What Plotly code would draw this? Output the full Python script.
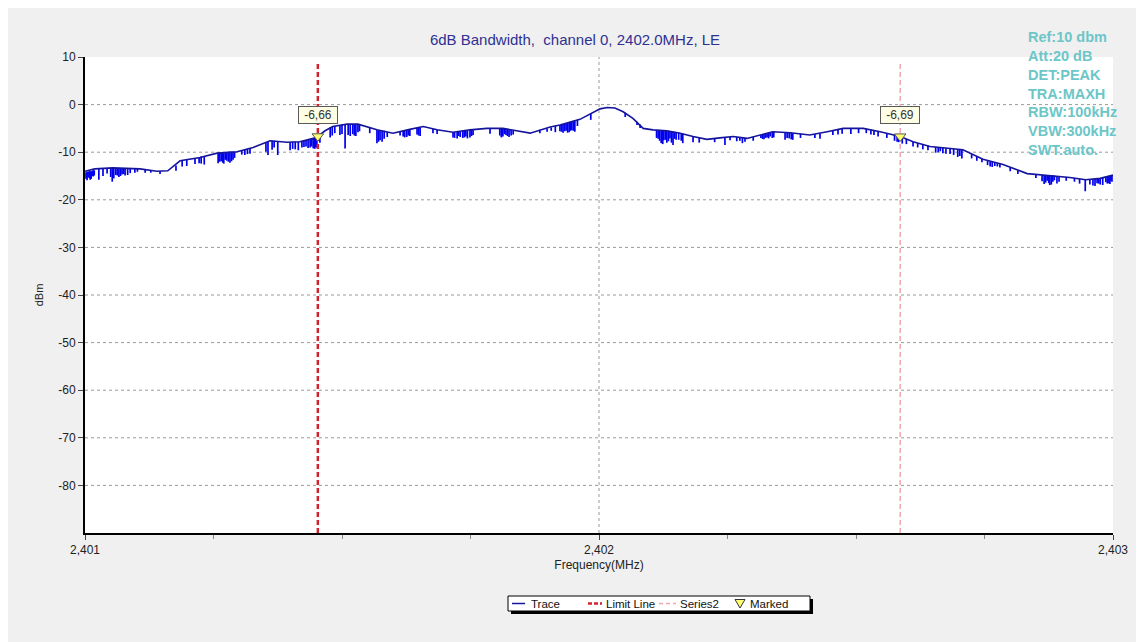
import plotly.graph_objects as go

# ---------------- data ----------------
env_freq = [2401.000, 2401.019, 2401.054, 2401.107, 2401.140, 2401.161, 2401.185, 2401.224,
            2401.257, 2401.296, 2401.327, 2401.360, 2401.393, 2401.418, 2401.444, 2401.453,
            2401.467, 2401.482, 2401.510, 2401.531, 2401.568, 2401.599, 2401.632, 2401.658,
            2401.685, 2401.716, 2401.749, 2401.782, 2401.813, 2401.840, 2401.866, 2401.905,
            2401.924, 2401.963, 2401.988, 2402.002, 2402.016, 2402.031, 2402.047, 2402.066,
            2402.086, 2402.105, 2402.132, 2402.158, 2402.183, 2402.210, 2402.235, 2402.261,
            2402.288, 2402.313, 2402.338, 2402.372, 2402.410, 2402.444, 2402.475, 2402.514,
            2402.547, 2402.586, 2402.611, 2402.644, 2402.677, 2402.708, 2402.747, 2402.786,
            2402.833, 2402.879, 2402.916, 2402.947, 2402.975, 2403.000]
env_dbm = [-14.0, -13.5, -13.3, -13.5, -14.0, -13.9, -11.8, -11.1,
           -10.2, -9.9, -9.0, -7.6, -7.9, -7.8, -7.1, -6.66,
           -5.5, -4.6, -4.1, -4.1, -5.3, -6.0, -5.2, -4.6,
           -5.3, -5.8, -5.3, -5.0, -5.0, -5.5, -6.0, -4.7,
           -4.3, -3.1, -1.8, -0.9, -0.6, -0.7, -1.5, -2.9,
           -5.0, -5.3, -5.5, -6.0, -6.7, -7.3, -7.0, -6.7,
           -7.1, -6.4, -5.7, -5.9, -6.4, -5.7, -5.0, -5.0,
           -5.7, -6.69, -7.8, -8.8, -9.2, -9.5, -11.5, -12.6,
           -14.5, -14.9, -15.3, -15.8, -15.5, -14.8]

dip_freq = [2401.002, 2401.006, 2401.010, 2401.014, 2401.018, 2401.027, 2401.035, 2401.043,
            2401.053, 2401.060, 2401.066, 2401.072, 2401.078, 2401.088, 2401.097, 2401.117,
            2401.146, 2401.177, 2401.189, 2401.198, 2401.214, 2401.222, 2401.232, 2401.259,
            2401.265, 2401.270, 2401.276, 2401.282, 2401.288, 2401.311, 2401.321, 2401.356,
            2401.364, 2401.375, 2401.399, 2401.409, 2401.422, 2401.430, 2401.438, 2401.444,
            2401.447, 2401.451, 2401.457, 2401.477, 2401.481, 2401.496, 2401.506, 2401.516,
            2401.521, 2401.527, 2401.531, 2401.554, 2401.568, 2401.574, 2401.578, 2401.588,
            2401.613, 2401.619, 2401.626, 2401.632, 2401.646, 2401.652, 2401.677, 2401.685,
            2401.716, 2401.724, 2401.730, 2401.735, 2401.741, 2401.749, 2401.755, 2401.788,
            2401.807, 2401.813, 2401.819, 2401.825, 2401.833, 2401.885, 2401.899, 2401.907,
            2401.924, 2401.930, 2401.936, 2401.942, 2401.947, 2401.953, 2401.984, 2402.051,
            2402.074, 2402.080, 2402.115, 2402.121, 2402.126, 2402.132, 2402.138, 2402.144,
            2402.150, 2402.163, 2402.183, 2402.245, 2402.274, 2402.284, 2402.315, 2402.321,
            2402.327, 2402.333, 2402.340, 2402.362, 2402.370, 2402.377, 2402.430, 2402.465,
            2402.473, 2402.529, 2402.543, 2402.580, 2402.590, 2402.611, 2402.630, 2402.660,
            2402.669, 2402.683, 2402.698, 2402.706, 2402.735, 2402.761, 2402.770, 2402.780,
            2402.866, 2402.872, 2402.877, 2402.883, 2402.891, 2402.909, 2402.946, 2402.961,
            2402.969, 2402.975, 2402.986, 2402.992, 2402.996,
            2401.004, 2401.008, 2401.012, 2401.016, 2401.050, 2401.056, 2401.063, 2401.069,
            2401.075, 2401.083, 2401.102, 2401.128, 2401.226, 2401.262, 2401.268, 2401.273,
            2401.279, 2401.285, 2401.291, 2401.305, 2401.316, 2401.352, 2401.368, 2401.404,
            2401.415, 2401.426, 2401.434, 2401.441, 2401.449, 2401.486, 2401.500, 2401.512,
            2401.524, 2401.534, 2401.571, 2401.582, 2401.622, 2401.629, 2401.649, 2401.719,
            2401.727, 2401.738, 2401.744, 2401.752, 2401.810, 2401.816, 2401.822, 2401.829,
            2401.915, 2401.927, 2401.933, 2401.939, 2401.944, 2401.950, 2401.958, 2402.112,
            2402.118, 2402.124, 2402.129, 2402.135, 2402.141, 2402.147, 2402.155, 2402.160,
            2402.195, 2402.225, 2402.255, 2402.268, 2402.279, 2402.300, 2402.318, 2402.324,
            2402.330, 2402.337, 2402.366, 2402.374, 2402.392, 2402.420, 2402.455, 2402.490,
            2402.505, 2402.520, 2402.535, 2402.560, 2402.575, 2402.583, 2402.598, 2402.620,
            2402.640, 2402.655, 2402.664, 2402.675, 2402.690, 2402.702, 2402.725, 2402.745,
            2402.756, 2402.765, 2402.775, 2402.800, 2402.815, 2402.850, 2402.862, 2402.869,
            2402.875, 2402.880, 2402.886, 2402.895, 2402.925, 2402.935, 2402.955, 2402.965,
            2402.972, 2402.980, 2402.989, 2402.994, 2402.998]
dip_top = [-14.2, -14.1, -14.0, -13.9, -13.8, -13.5, -13.4, -13.4,
           -13.3, -13.3, -13.3, -13.4, -13.4, -13.5, -13.5, -13.6,
           -14.0, -12.8, -11.8, -11.6, -11.3, -11.2, -11.0, -10.2,
           -10.1, -10.0, -10.0, -9.9, -9.9, -9.5, -9.2, -7.8,
           -7.6, -7.8, -7.9, -7.8, -7.7, -7.5, -7.3, -7.1,
           -7.0, -6.8, -6.1, -4.8, -4.7, -4.3, -4.2, -4.1,
           -4.1, -4.1, -4.1, -4.8, -5.3, -5.4, -5.5, -5.7,
           -5.7, -5.5, -5.3, -5.2, -4.9, -4.8, -5.1, -5.3,
           -5.8, -5.7, -5.6, -5.5, -5.4, -5.3, -5.2, -5.0,
           -5.0, -5.0, -5.1, -5.2, -5.4, -5.3, -5.0, -4.8,
           -4.3, -4.1, -3.9, -3.7, -3.5, -3.3, -1.9, -1.7,
           -3.6, -4.2, -5.4, -5.4, -5.4, -5.5, -5.6, -5.7,
           -5.8, -6.1, -6.7, -6.9, -6.9, -7.0, -6.4, -6.2,
           -6.0, -5.8, -5.7, -5.8, -5.9, -6.0, -6.0, -5.2,
           -5.0, -5.3, -5.6, -6.5, -6.8, -7.8, -8.4, -9.0,
           -9.1, -9.3, -9.4, -9.5, -10.9, -11.9, -12.1, -12.4,
           -14.8, -14.8, -14.9, -14.9, -15.0, -15.2, -15.8, -15.7,
           -15.6, -15.5, -15.2, -15.1, -15.0,
           -14.1, -14.0, -14.0, -13.8, -13.3, -13.3, -13.3, -13.4,
           -13.4, -13.4, -13.5, -13.8, -10.9, -10.1, -10.0, -10.0,
           -9.9, -9.9, -9.9, -9.6, -9.3, -8.0, -7.6, -7.8,
           -7.8, -7.6, -7.4, -7.2, -6.9, -4.5, -4.2, -4.1,
           -4.1, -4.2, -5.4, -5.5, -5.4, -5.3, -4.8, -5.8,
           -5.7, -5.5, -5.4, -5.3, -5.0, -5.0, -5.1, -5.3,
           -4.5, -4.2, -4.0, -3.8, -3.6, -3.4, -3.2, -5.4,
           -5.4, -5.4, -5.5, -5.5, -5.6, -5.7, -5.9, -6.0,
           -7.0, -7.1, -6.8, -6.8, -6.9, -6.8, -6.3, -6.1,
           -5.9, -5.7, -5.8, -5.9, -6.1, -6.2, -5.4, -5.0,
           -5.0, -5.1, -5.4, -6.0, -6.3, -6.6, -7.2, -8.1,
           -8.6, -8.9, -9.0, -9.2, -9.3, -9.4, -10.4, -11.4,
           -11.8, -12.0, -12.3, -13.2, -13.8, -14.6, -14.8, -14.8,
           -14.9, -14.9, -14.9, -15.0, -15.4, -15.6, -15.7, -15.6,
           -15.5, -15.4, -15.1, -15.0, -14.9]
dip_bottom = [-15.6, -15.2, -15.8, -15.0, -14.9, -15.8, -15.0, -14.5,
              -16.2, -14.8, -15.2, -14.7, -14.9, -14.4, -14.3, -14.3,
              -14.6, -13.9, -13.0, -12.9, -12.5, -12.3, -12.6, -12.3,
              -11.9, -12.4, -11.8, -12.2, -11.6, -10.6, -10.3, -10.6,
              -9.5, -10.6, -9.6, -9.4, -9.0, -8.8, -9.0, -9.2,
              -9.3, -9.0, -8.0, -6.9, -6.5, -6.4, -9.2, -6.6,
              -6.2, -6.6, -5.8, -6.0, -8.1, -7.5, -7.8, -6.8,
              -6.5, -6.7, -6.8, -6.6, -6.3, -6.6, -6.0, -6.2,
              -6.9, -7.1, -6.8, -7.0, -6.7, -6.9, -6.4, -6.1,
              -6.5, -6.7, -6.4, -6.8, -6.3, -6.0, -5.7, -5.5,
              -5.6, -5.9, -5.5, -5.8, -5.4, -5.7, -3.2, -2.6,
              -4.3, -4.9, -7.2, -8.1, -7.5, -8.0, -7.1, -8.5,
              -7.4, -8.1, -7.9, -8.5, -7.6, -7.8, -7.0, -7.3,
              -6.9, -6.7, -6.9, -7.4, -7.1, -7.4, -7.2, -6.3,
              -6.1, -6.3, -6.7, -7.8, -8.2, -8.8, -9.4, -10.0,
              -10.2, -10.4, -11.0, -11.3, -11.8, -13.0, -12.9, -13.2,
              -16.7, -16.0, -16.9, -16.2, -16.6, -16.0, -18.2, -17.0,
              -16.5, -16.8, -16.3, -16.5, -16.0,
              -15.9, -15.4, -15.6, -15.1, -15.2, -15.5, -14.9, -15.0,
              -14.6, -14.8, -14.1, -14.3, -12.4, -12.0, -12.2, -11.6,
              -12.0, -11.9, -11.2, -10.5, -10.4, -9.9, -9.0, -9.3,
              -9.6, -8.9, -9.1, -8.8, -9.0, -6.0, -6.2, -6.4,
              -6.5, -5.6, -7.8, -7.2, -6.9, -6.5, -6.5, -7.0,
              -6.6, -6.9, -7.1, -6.6, -6.9, -6.2, -6.6, -6.5,
              -5.8, -5.7, -5.6, -5.9, -5.5, -5.5, -4.5, -7.0,
              -7.6, -8.3, -7.4, -7.7, -8.0, -7.2, -7.4, -7.6,
              -8.0, -7.9, -7.5, -7.7, -8.1, -7.6, -7.2, -7.0,
              -7.1, -7.0, -7.0, -7.3, -7.0, -7.0, -6.4, -6.2,
              -6.0, -6.0, -6.4, -7.0, -7.6, -7.9, -8.3, -9.0,
              -9.6, -10.1, -9.8, -10.3, -10.6, -10.8, -11.3, -12.1,
              -12.7, -13.1, -13.0, -14.0, -14.6, -15.4, -16.1, -16.4,
              -16.5, -16.8, -15.9, -16.2, -16.2, -16.6, -16.8, -17.1,
              -16.6, -16.9, -16.6, -16.7, -16.2]

limit_freq = 2401.453
series2_freq = 2402.586
marked_freq = [2401.453, 2402.586]
marked_dbm = [-6.66, -6.69]
marked_labels = ["-6,66", "-6,69"]

x_tick_vals = [2401, 2402, 2403]
x_tick_text = ["2,401", "2,402", "2,403"]
y_tick_vals = [10, 0, -10, -20, -30, -40, -50, -60, -70, -80]
y_tick_text = ["10", "0", "-10", "-20", "-30", "-40", "-50", "-60", "-70", "-80"]
y_grid_vals = [0, -10, -20, -30, -40, -50, -60, -70, -80]
x_grid_vals = [2402]

info_lines = ["Ref:10 dbm", "Att:20 dB", "DET:PEAK", "TRA:MAXH",
              "RBW:100kHz", "VBW:300kHz", "SWT:auto."]
title_text = "6dB Bandwidth,  channel 0, 2402.0MHz, LE"
legend_names = ["Trace", "Limit Line", "Series2", "Marked"]

Y_MIN, Y_MAX = -90, 10
X_MIN, X_MAX = 2401, 2403

FONT = "Liberation Sans, Arial, sans-serif"

# styles
TRACE_COLOR = "#14149c"
DIP_COLOR = "#0000ee"
LIMIT_COLOR = "#d4222e"
SERIES2_COLOR = "#f2a6b0"
MARK_FILL = "#ffff70"
MARK_LINE = "#555555"

# page-pixel -> paper helpers (plot area spans page px 85..1113 x 57..533)
PL, PR, PT, PB = 85, 1113, 57, 533


def px(x):
    return (x - PL) / (PR - PL)


def py(y):
    return (PB - y) / (PB - PT)


# ---------------- figure ----------------
fig = go.Figure()

dx, dy = [], []
for f, t, b in zip(dip_freq, dip_top, dip_bottom):
    dx += [f, f, None]
    dy += [t, b, None]

fig.add_trace(go.Scatter(x=dx, y=dy, mode="lines", showlegend=False, name=legend_names[0],
                         line=dict(color=DIP_COLOR, width=1.7), hoverinfo="skip"))
fig.add_trace(go.Scatter(x=env_freq, y=env_dbm, mode="lines", name=legend_names[0],
                         showlegend=False, line=dict(color=TRACE_COLOR, width=1.6)))
fig.add_trace(go.Scatter(x=[limit_freq, limit_freq], y=[Y_MIN, Y_MAX - 1], mode="lines",
                         name=legend_names[1], showlegend=False,
                         line=dict(color=LIMIT_COLOR, width=2.5, dash="5px,3px")))
fig.add_trace(go.Scatter(x=[series2_freq, series2_freq], y=[Y_MIN, Y_MAX - 1], mode="lines",
                         name=legend_names[2], showlegend=False,
                         line=dict(color=SERIES2_COLOR, width=1.5, dash="5px,3px")))
fig.add_trace(go.Scatter(x=marked_freq, y=marked_dbm, mode="markers", name=legend_names[3],
                         showlegend=False,
                         marker=dict(symbol="triangle-down", size=10, color=MARK_FILL,
                                     line=dict(color=MARK_LINE, width=1))))

shapes = []
for v in y_grid_vals:
    shapes.append(dict(type="line", xref="paper", x0=0, x1=1, yref="y", y0=v, y1=v,
                       line=dict(color="#9a9a9a", width=1, dash="3px,3px"), layer="below"))
for v in x_grid_vals:
    shapes.append(dict(type="line", yref="paper", y0=0, y1=1, xref="x", x0=v, x1=v,
                       line=dict(color="#9a9a9a", width=1, dash="3px,3px"), layer="below"))
# white strip at the right edge of the window
shapes.append(dict(type="line", xref="paper", yref="paper", x0=px(1144), x1=px(1144),
                   y0=py(660), y1=py(0), line=dict(color="white", width=14), layer="above"))

# custom legend (box with drop shadow)
shapes.append(dict(type="rect", xref="paper", yref="paper", x0=px(511), x1=px(813),
                   y0=py(614), y1=py(599), line=dict(width=0), fillcolor="black"))
shapes.append(dict(type="rect", xref="paper", yref="paper", x0=px(508), x1=px(810),
                   y0=py(611), y1=py(596), line=dict(color="black", width=1), fillcolor="white"))
LEG_Y = 603.5
shapes.append(dict(type="line", xref="paper", yref="paper", x0=px(512), x1=px(525),
                   y0=py(LEG_Y), y1=py(LEG_Y), line=dict(color=TRACE_COLOR, width=1.5)))
shapes.append(dict(type="line", xref="paper", yref="paper", x0=px(588), x1=px(602),
                   y0=py(LEG_Y), y1=py(LEG_Y), line=dict(color=LIMIT_COLOR, width=2.5, dash="4px,2px")))
shapes.append(dict(type="line", xref="paper", yref="paper", x0=px(659), x1=px(676),
                   y0=py(LEG_Y), y1=py(LEG_Y), line=dict(color=SERIES2_COLOR, width=1.5, dash="4px,3px")))
shapes.append(dict(type="path", xref="paper", yref="paper",
                   path=f"M {px(735)} {py(599.5)} L {px(745)} {py(599.5)} L {px(740)} {py(608)} Z",
                   fillcolor=MARK_FILL, line=dict(color="#333333", width=1)))

annotations = []
for name, lx in zip(legend_names, [529, 604, 678, 748]):
    annotations.append(dict(xref="paper", yref="paper", x=px(lx), y=py(LEG_Y), text=name,
                            xanchor="left", yanchor="middle", showarrow=False,
                            font=dict(family=FONT, size=11.5, color="#111111")))

for f, v, lab in zip(marked_freq, marked_dbm, marked_labels):
    annotations.append(dict(x=f, y=v, xref="x", yref="y", text=lab, showarrow=False,
                            yshift=21, width=34, height=12,
                            font=dict(family=FONT, size=12, color="#333333"),
                            bgcolor="#ffffe6", bordercolor="#5a5a5a", borderwidth=1, borderpad=2))
annotations.append(dict(xref="paper", yref="paper", x=px(1026), y=py(27),
                        xanchor="left", yanchor="top", align="left", showarrow=False,
                        text="<br>".join(f"<b>{s}</b>" for s in info_lines),
                        font=dict(family=FONT, size=14.5, color="#6cc6c8")))

# the page body has an 8px margin, so the figure starts at page (8, 8)
fig.update_layout(
    width=1136, height=634,
    margin=dict(l=PL - 8, r=1136 - (PR - 8), t=PT - 8, b=634 - (PB - 8)),
    paper_bgcolor="#f0f0f0", plot_bgcolor="white",
    font=dict(family=FONT, size=12, color="#222222"),
    title=dict(text=title_text, x=px(575), xref="paper", xanchor="center",
               y=1 - (40 - 8) / 634, yanchor="middle",
               font=dict(family=FONT, size=15, color="#2e3192")),
    showlegend=False,
    shapes=shapes, annotations=annotations,
)
fig.update_xaxes(range=[X_MIN, X_MAX], tickvals=x_tick_vals, ticktext=x_tick_text,
                 showgrid=False, zeroline=False, showline=True, linecolor="black", linewidth=2,
                 ticks="outside", ticklen=5, tickcolor="#444", tickfont=dict(size=12, color="#222"),
                 minor=dict(dtick=0.25, tick0=2401, ticks="outside", ticklen=4, tickcolor="#888"),
                 title=dict(text="Frequency(MHz)", standoff=4, font=dict(size=12, color="#222")))
fig.update_yaxes(range=[Y_MIN, Y_MAX], tickvals=y_tick_vals, ticktext=y_tick_text,
                 showgrid=False, zeroline=False, showline=True, linecolor="black", linewidth=2,
                 ticks="outside", ticklen=5, tickcolor="#444", tickfont=dict(size=12, color="#222"),
                 title=dict(text="dBm", standoff=12, font=dict(size=11, color="#222")))

fig.write_html("out.html")
